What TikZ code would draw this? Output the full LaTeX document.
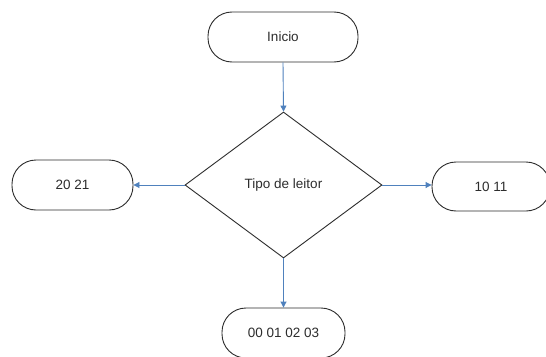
\documentclass[tikz,border=0pt]{standalone}
\usepackage{fontspec}
\setmainfont{Liberation Sans}
\usetikzlibrary{shapes.geometric,arrows.meta}
\definecolor{flowblue}{RGB}{79,129,189}
\definecolor{ink}{RGB}{45,45,45}
\tikzset{
  terminal/.style={draw=ink, line width=0.9pt, rectangle, rounded corners=24pt,
    minimum height=50pt, inner sep=0pt, text=ink, font=\fontsize{13.5}{15}\selectfont},
  decision/.style={draw=ink, line width=0.9pt, diamond, inner sep=0pt,
    minimum width=197pt, minimum height=146pt, text=ink, font=\fontsize{13.5}{15}\selectfont},
  flow/.style={draw=flowblue, line width=0.9pt, -{Triangle[length=6pt,width=6pt]}}
}
\begin{document}
\begin{tikzpicture}[x=1pt,y=-1pt]
  \useasboundingbox (0,0) rectangle (546,356);
  \clip (0,0) rectangle (546,356);
  \fill[white] (0,0) rectangle (546,356);
  \node[terminal, minimum width=150pt] (start) at (283,37) {Inicio};
  \node[decision] (type) at (283.5,185) {Tipo de leitor};
  \node[terminal, minimum width=121pt] (left) at (72.5,185) {20 21};
  \node[terminal, minimum width=118pt, minimum height=49pt] (right) at (491,186.5) {10 11};
  \node[terminal, minimum width=123pt] (bottom) at (283.5,333) {00 01 02 03};
  \draw[flow] (start.south) -- (type.north);
  \draw[flow] (type.west) -- (left.east);
  \draw[flow] (type.east) -- (type.east -| right.west);
  \draw[flow] (type.south) -- (bottom.north);
\end{tikzpicture}
\end{document}
